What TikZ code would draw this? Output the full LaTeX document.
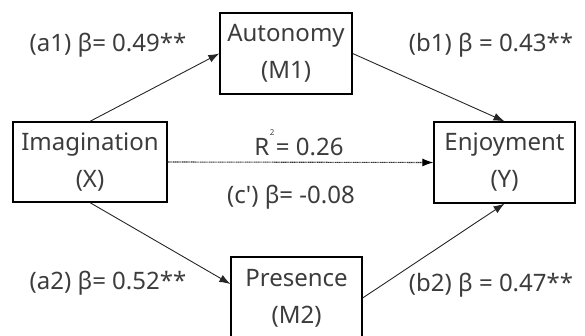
\documentclass[tikz,border=0pt]{standalone}
\usepackage{fontspec}
\setmainfont{Noto Sans}
\usetikzlibrary{arrows.meta,calc}
\definecolor{txt}{HTML}{3C3C3C}
\begin{document}
\begin{tikzpicture}[x=1pt,y=-1pt,
  every node/.style={font=\fontsize{24}{37}\selectfont, text=txt},
  var/.style={draw=black, line width=1.3pt, align=center, inner sep=0pt},
  path/.style={draw=black!85, line width=0.9pt, -{Latex[length=11pt,width=8pt]}},
  direct/.style={draw=black!80, line width=1.1pt, dash pattern=on 1.2pt off 0.6pt, -{Latex[length=11pt,width=8pt,black]}},
  lbl/.style={inner sep=0pt}]
\useasboundingbox (0,0) rectangle (585,336);
\node[var, minimum width=132pt, minimum height=81pt] (aut) at (286,53.5) {Autonomy\\(M1)};
\node[var, minimum width=154pt, minimum height=80pt] (ima) at (90,162) {Imagination\\(X)};
\node[var, minimum width=141pt, minimum height=81pt] (enj) at (504.5,162.5) {Enjoyment\\(Y)};
\node[var, minimum width=131pt, minimum height=82pt] (pre) at (296.5,298) {Presence\\(M2)};
\draw[path] (ima.north) -- (aut.west);
\draw[path] (aut.east) -- (enj.north);
\draw[path] (ima.south) -- ([yshift=14pt]pre.west);
\draw[path] (pre.east) -- (enj.south);
\draw[direct] (ima.east) -- (enj.west);
\node[lbl] (la1) at (108,45) {(a1) β= 0.49**};
\node[lbl] (lb1) at (491,45) {(b1) β = 0.43**};
\node[lbl] (lr) at (299,143) {R\kern0.5pt\raisebox{20pt}{\fontsize{8}{8}\selectfont 2}\kern1.5pt= 0.26};
\node[lbl] (lc) at (291,197) {(c\textquotesingle) β= -0.08};
\node[lbl] (la2) at (108,283) {(a2) β= 0.52**};
\node[lbl] (lb2) at (491,285) {(b2) β = 0.47**};
\end{tikzpicture}
\end{document}
